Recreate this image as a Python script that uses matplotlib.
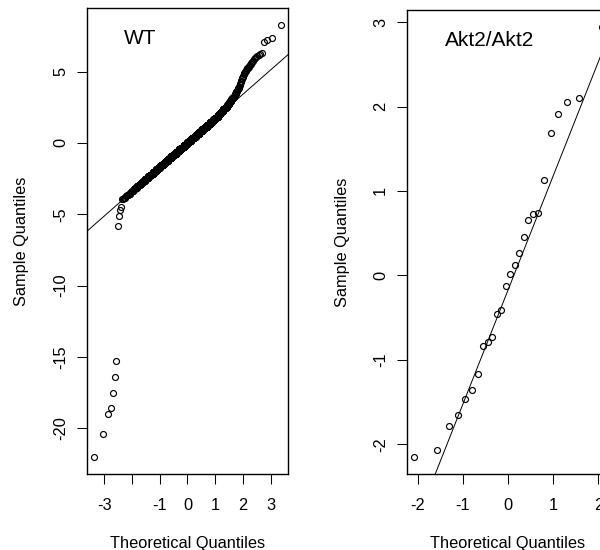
import numpy as np
import matplotlib
matplotlib.use("Agg")
import matplotlib.pyplot as plt
from statistics import NormalDist

plt.rcParams['font.family'] = ['Liberation Sans', 'DejaVu Sans']
plt.rcParams['axes.unicode_minus'] = False

# --- WT sample (n ~ 1284) ---
# lowest values, read point by point
wt_low = [-22.0, -20.4, -19.0, -18.6, -17.5, -16.4, -15.3, -5.8, -5.1, -4.7, -4.5]
# bulk of the sample as a frequency table (value, how many)
wt_bulk_values = [
    -3.95, -3.85, -3.75, -3.65, -3.55, -3.45, -3.35, -3.25, -3.15, -3.05,
    -2.95, -2.85, -2.75, -2.65, -2.55, -2.45, -2.35, -2.25, -2.15, -2.05,
    -1.95, -1.85, -1.75, -1.65, -1.55, -1.45, -1.35, -1.25, -1.15, -1.05,
    -0.95, -0.85, -0.75, -0.65, -0.55, -0.45, -0.35, -0.25, -0.15, -0.05,
    0.05, 0.15, 0.25, 0.35, 0.45, 0.55, 0.65, 0.75, 0.85, 0.95,
    1.05, 1.15, 1.25, 1.35, 1.45, 1.55, 1.65, 1.75, 1.85, 1.95,
    2.05, 2.15, 2.25, 2.35, 2.45, 2.55, 2.65, 2.75, 2.85, 2.95,
    3.05, 3.15, 3.25, 3.35, 3.45, 3.55, 3.65, 3.75, 3.85, 3.95,
    4.05, 4.15, 4.25, 4.35, 4.45, 4.55,
]
wt_bulk_counts = [
    2, 3, 2, 3, 4, 3, 5, 4, 6, 6,
    6, 7, 8, 9, 10, 11, 11, 13, 13, 15,
    15, 17, 17, 19, 20, 21, 22, 23, 24, 25,
    25, 27, 27, 28, 29, 29, 30, 30, 30, 30,
    30, 30, 30, 30, 29, 29, 28, 27, 27, 25,
    25, 24, 23, 22, 21, 20, 19, 16, 14, 13,
    12, 11, 11, 11, 11, 9, 7, 6, 6, 5,
    5, 5, 5, 3, 3, 3, 3, 3, 2, 2,
    1, 2, 1, 2, 1, 2,
]
# highest values, read point by point
wt_high = [4.65, 4.72, 4.8, 4.85, 4.9, 4.95, 5.0, 5.06, 5.12, 5.17,
           5.22, 5.28, 5.33, 5.38, 5.45, 5.52, 5.6, 5.66, 5.75, 5.85,
           5.92, 6.0, 6.1, 6.2, 6.25, 6.3, 7.05, 7.2, 7.35, 8.25]

# --- Akt2/Akt2 sample (n = 26) ---
akt2 = [-2.15, -2.07, -1.79, -1.66, -1.47, -1.36, -1.17, -0.84, -0.79, -0.73,
        -0.46, -0.41, -0.13, 0.02, 0.12, 0.27, 0.45, 0.66, 0.73, 0.74,
        1.13, 1.69, 1.91, 2.05, 2.10, 2.94]

wt_xticks = [-3, -2, -1, 0, 1, 2, 3]
wt_xticklabels = ['-3', '', '-1', '0', '1', '2', '3']   # R drops the overlapping "-2"
wt_yticks = [-20, -15, -10, -5, 0, 5]
akt2_xticks = [-2, -1, 0, 1, 2]
akt2_yticks = [-2, -1, 0, 1, 2, 3]

wt = wt_low + list(np.repeat(wt_bulk_values, wt_bulk_counts)) + wt_high

ND = NormalDist()


def qq_points(sample):
    # same as R qqnorm: sorted sample vs normal quantiles of ppoints(n)
    y = np.sort(np.asarray(sample, dtype=float))
    n = len(y)
    a = 3 / 8 if n <= 10 else 0.5
    p = (np.arange(1, n + 1) - a) / (n + 1 - 2 * a)
    x = np.array([ND.inv_cdf(v) for v in p])
    return x, y


def qq_line(y):
    # same as R qqline: line through the quartiles
    q1, q3 = np.quantile(y, [0.25, 0.75])
    x1, x3 = ND.inv_cdf(0.25), ND.inv_cdf(0.75)
    return (x1, q1), (q3 - q1) / (x3 - x1)


def r_range(v):
    lo, hi = float(np.min(v)), float(np.max(v))
    d = 0.04 * (hi - lo)
    return lo - d, hi + d


def qq_panel(ax, sample, title, xticks, xticklabels, yticks):
    x, y = qq_points(sample)
    ax.plot(x, y, 'o', ms=4.3, mfc='none', mec='black', mew=0.85)
    p0, slope = qq_line(y)
    ax.axline(p0, slope=slope, color='black', lw=0.7)
    ax.set_xlim(*r_range(x))
    ax.set_ylim(*r_range(y))

    ax.set_xticks(xticks, xticklabels)
    ax.set_yticks(yticks, [str(t) for t in yticks])
    ax.tick_params(axis='both', direction='out', length=7.5, width=0.75,
                   labelsize=11.8, colors='black')
    ax.tick_params(axis='x', pad=9.5)
    ax.tick_params(axis='y', pad=6.0, labelrotation=90)
    for lab in ax.get_yticklabels():
        lab.set_verticalalignment('center')
    for s in ax.spines.values():
        s.set_linewidth(1.0)

    ax.set_xlabel('Theoretical Quantiles', fontsize=11.8)
    ax.set_ylabel('Sample Quantiles', fontsize=11.8)
    ax.text(0.186, 0.922, title, transform=ax.transAxes, ha='left',
            va='baseline', fontsize=15)


fig = plt.figure(figsize=(6, 5.5), dpi=100)
ax1 = fig.add_axes([87 / 600, 76 / 550, 201 / 600, 466 / 550])
ax2 = fig.add_axes([407 / 600, 76 / 550, 202 / 600, 464 / 550])

qq_panel(ax1, wt, 'WT', wt_xticks, wt_xticklabels, wt_yticks)
qq_panel(ax2, akt2, 'Akt2/Akt2', akt2_xticks, [str(t) for t in akt2_xticks],
         akt2_yticks)

ax1.xaxis.set_label_coords(0.5, -62 / 466)
ax1.yaxis.set_label_coords(-58 / 201, 0.5)
ax2.xaxis.set_label_coords(0.5, -62 / 464)
ax2.yaxis.set_label_coords(-57 / 202, 0.5)

fig.savefig('out.png', dpi=100)
